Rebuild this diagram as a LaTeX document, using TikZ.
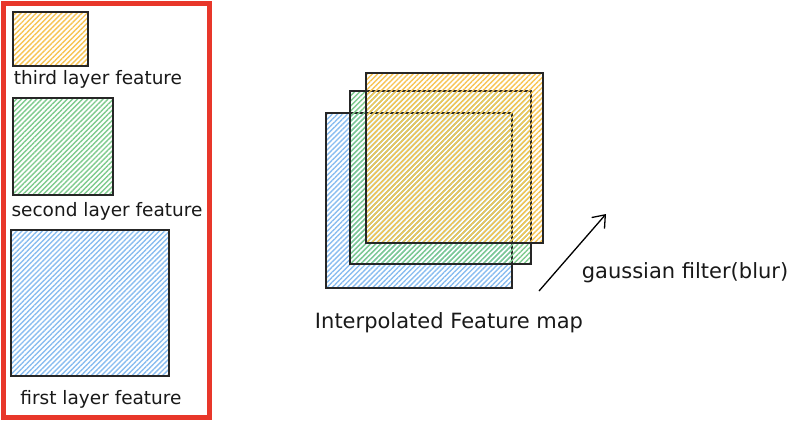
\documentclass[tikz,border=0pt]{standalone}
\usepackage{fontspec}
\setmainfont{DejaVu Sans}
\usetikzlibrary{patterns.meta,arrows.meta}
\definecolor{frame}{HTML}{E8372A}
\definecolor{hatchO}{HTML}{F7C455}
\definecolor{hatchG}{HTML}{7FCB8E}
\definecolor{hatchB}{HTML}{8ABDF0}
\tikzset{
  feat/.style={draw=black!85, line width=1.1pt, inner sep=0pt, fill opacity=0.8,
    pattern={Lines[angle=45,distance=3.6pt,line width=1.4pt]}},
  fo/.style={feat, pattern color=hatchO},
  fg/.style={feat, pattern color=hatchG},
  fb/.style={feat, pattern color=hatchB},
  stack/.style={fill opacity=0.6},
  lbl/.style={font=\fontsize{18.5}{22}\selectfont, text=black!90, inner sep=0pt},
  biglbl/.style={font=\fontsize{21}{25}\selectfont, text=black!90, inner sep=0pt}
}
\begin{document}
\begin{tikzpicture}[x=1pt,y=-1pt]
\useasboundingbox (0,0) rectangle (800,421);
% left panel
\draw[frame, line width=5pt] (3,3) rectangle (209,417);
\node[fo, minimum width=75pt, minimum height=54pt] (o1) at (50.5,39) {};
\node[lbl] (t1) at (98,79) {third layer feature};
\node[fg, minimum width=100pt, minimum height=97pt] (g1) at (63,146.5) {};
\node[lbl] (t2) at (107,211) {second layer feature};
\node[fb, minimum width=158pt, minimum height=146pt] (b1) at (90,303) {};
\node[lbl] (t3) at (101,399) {first layer feature};
% right stack
\node[fb, minimum width=186pt, minimum height=175pt] (b2) at (419,200.5) {};
\node[fg, stack, minimum width=181pt, minimum height=173pt] (g2) at (440.5,177.5) {};
\node[fo, stack, minimum width=177pt, minimum height=170pt] (o2) at (454.5,158) {};
\node[biglbl] (t4) at (449,323) {Interpolated Feature map};
% arrow
\coordinate (a0) at (539,291);
\coordinate (a1) at (606,214);
\draw[line width=1.3pt, -{Straight Barb[length=11pt,width=17pt]}] (a0) -- (a1);
\node[biglbl] (t5) at (685,273) {gaussian filter(blur)};
\end{tikzpicture}
\end{document}
